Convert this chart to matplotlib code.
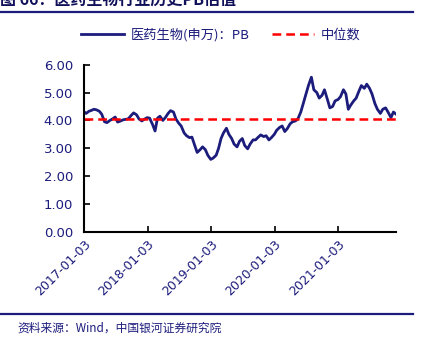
import numpy as np
import pandas as pd
import matplotlib
matplotlib.use("Agg")
import matplotlib.pyplot as plt
import matplotlib.dates as mdates

plt.rcParams['font.family'] = ['Noto Sans CJK SC', 'DejaVu Sans']

# 医药生物(申万) PB，半月取样
pb = [4.31, 4.25, 4.33, 4.36, 4.40, 4.38, 4.33, 4.22, 3.95, 3.92,
      4.00, 4.05, 4.12, 3.94, 3.98, 4.02, 4.04, 4.06, 4.18, 4.27,
      4.20, 4.05, 3.98, 4.04, 4.10, 4.08, 3.85, 3.62, 4.08, 4.15,
      4.00, 4.10, 4.25, 4.35, 4.30, 4.05, 3.90, 3.80, 3.55, 3.45,
      3.38, 3.40, 3.10, 2.85, 2.95, 3.05, 2.95, 2.75, 2.60, 2.65,
      2.75, 3.00, 3.35, 3.55, 3.72, 3.50, 3.35, 3.15, 3.05, 3.25,
      3.35, 3.10, 2.98, 3.15, 3.30, 3.30, 3.40, 3.48, 3.42, 3.45,
      3.30, 3.38, 3.50, 3.65, 3.75, 3.80, 3.60, 3.70, 3.88, 3.95,
      3.98, 4.05, 4.30, 4.60, 4.95, 5.25, 5.55, 5.10, 5.00, 4.80,
      4.90, 5.10, 4.75, 4.45, 4.50, 4.70, 4.75, 4.85, 5.10, 4.95,
      4.40, 4.55, 4.70, 4.80, 5.05, 5.25, 5.15, 5.30, 5.15, 4.95,
      4.60, 4.40, 4.25, 4.40, 4.45, 4.30, 4.10, 4.30, 4.22]
median = 4.04

dates = pd.date_range("2017-01-01", periods=len(pb), freq="SMS")
dates = dates.where(dates != pd.Timestamp("2017-01-01"), pd.Timestamp("2017-01-03"))

tick_dates = pd.to_datetime(["2017-01-03", "2018-01-03", "2019-01-03",
                             "2020-01-03", "2021-01-03"])
yticks = [0, 1, 2, 3, 4, 5, 6]

navy = "#1c1c7c"

fig = plt.figure(figsize=(4.33, 3.44), dpi=100)
ax = fig.add_axes([0.194, 0.326, 0.721, 0.486])

ax.plot(dates, pb, color=navy, lw=2.0, label="医药生物(申万)：PB")
ax.plot([dates[0], dates[-1]], [median, median], color="#ff0000", lw=1.8,
        ls=(0, (3.5, 2)), label="中位数")

ax.set_xlim(dates[0], dates[-1])
ax.set_ylim(0, 6)
ax.set_yticks(yticks)
ax.set_yticklabels([f"{v:.2f}" for v in yticks], color=navy, fontsize=9.5,
                   family="DejaVu Sans")
ax.set_xticks(tick_dates)
ax.set_xticklabels([d.strftime("%Y-%m-%d") for d in tick_dates], rotation=45,
                   ha="right", rotation_mode="anchor", color=navy, fontsize=9,
                   family="DejaVu Sans")
ax.tick_params(direction="in", length=4, width=1.2, pad=4)
ax.tick_params(axis="y", pad=8)
for s in ["top", "right"]:
    ax.spines[s].set_visible(False)
for s in ["left", "bottom"]:
    ax.spines[s].set_linewidth(1.5)

fig.legend(loc="center", bbox_to_anchor=(0.51, 0.898), ncol=2, frameon=False,
           fontsize=9.5, handlelength=3.2, handletextpad=0.5, columnspacing=1.7,
           labelcolor=navy)

# 标题与上下分隔线
fig.text(0.0, 1.0, "图 66：医药生物行业历史PB估值", fontsize=11.5, weight="bold",
         color="#10105a", va="center", ha="left")
fig.add_artist(plt.Line2D([0, 413 / 433], [1 - 12 / 344] * 2, color=navy, lw=1.6))
fig.add_artist(plt.Line2D([0, 413 / 433], [1 - 314 / 344] * 2, color=navy, lw=1.6))
fig.text(17 / 433, 1 - 328 / 344, "资料来源：Wind，中国银河证券研究院", fontsize=8.5,
         color=navy, style="italic", va="center", ha="left")

fig.savefig("out.png", dpi=100)
